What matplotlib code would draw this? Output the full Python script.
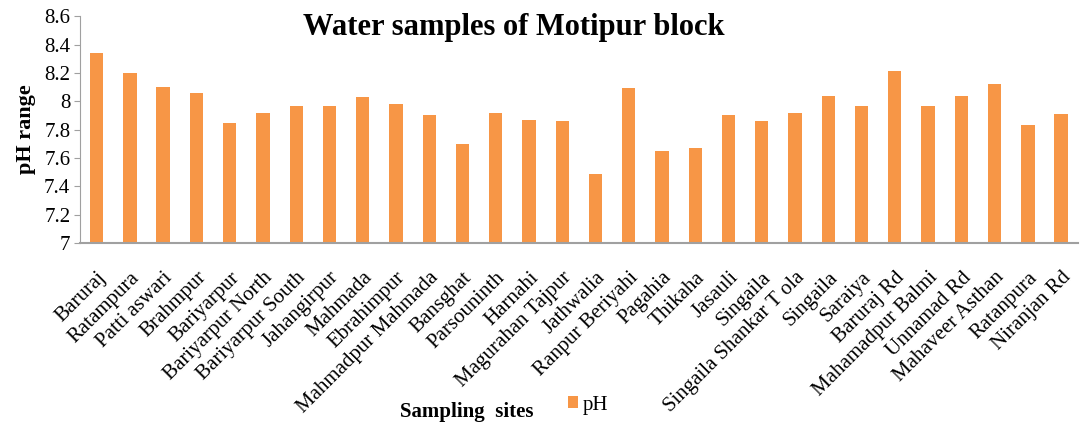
"""
Water samples of Motipur block - pH bar chart
"""

import matplotlib.pyplot as plt
import numpy as np

plt.rcParams['font.family'] = ['Liberation Serif', 'DejaVu Serif']

# Sampling sites and pH values
sites = ['Baruraj', 'Ratampura', 'Patti aswari', 'Brahmpur', 'Bariyarpur',
         'Bariyarpur North', 'Bariyarpur South', 'Jahangirpur', 'Mahmada',
         'Ebrahimpur', 'Mahmadpur Mahmada', 'Bansghat', 'Parsouninth',
         'Harnahi', 'Magurahan Tajpur', 'Jathwalia', 'Ranpur Beriyahi',
         'Pagahia', 'Thikaha', 'Jasauli', 'Singaila', 'Singaila Shankar T ola',
         'Singaila', 'Saraiya', 'Baruraj Rd', 'Mahamadpur Balmi',
         'Unnamad Rd', 'Mahaveer Asthan', 'Ratanpura', 'Niranjan Rd']
ph = [8.34, 8.20, 8.10, 8.06, 7.85,
      7.92, 7.97, 7.97, 8.03,
      7.98, 7.90, 7.70, 7.92,
      7.87, 7.86, 7.49, 8.09,
      7.65, 7.67, 7.90, 7.86, 7.92,
      8.04, 7.97, 8.21, 7.97,
      8.04, 8.12, 7.83, 7.91]
yticks = [7, 7.2, 7.4, 7.6, 7.8, 8, 8.2, 8.4, 8.6]
ytick_labels = ['7', '7.2', '7.4', '7.6', '7.8', '8', '8.2', '8.4', '8.6']

fig = plt.figure(figsize=(10.81, 4.25), dpi=100)
ax = fig.add_axes([0.074, 0.428, 0.923, 0.534])

x = np.arange(len(sites))
ax.bar(x, ph, width=0.4, color='#F79646', label='pH', zorder=2)

ax.set_xlim(-0.5, len(sites) - 0.5)
ax.set_ylim(7, 8.6)
ax.set_yticks(yticks)
ax.set_yticklabels(ytick_labels, fontsize=15)
ax.set_xticks(x)
ax.set_xticklabels(sites, rotation=45, ha='right', rotation_mode='anchor',
                   fontsize=15)
ax.tick_params(axis='x', length=0, pad=18)
ax.tick_params(axis='y', length=4, color='#A0A0A0', pad=3)

for side in ['top', 'right']:
    ax.spines[side].set_visible(False)
ax.spines['left'].set_color('#A0A0A0')
ax.spines['bottom'].set_color('#A0A0A0')
ax.spines['bottom'].set_linewidth(1.5)

ax.set_ylabel('pH range', fontsize=16, fontweight='bold', labelpad=6)
ax.set_xlabel('Sampling  sites', fontsize=15, fontweight='bold')
ax.xaxis.set_label_coords(0.388, -0.70)

fig.text(0.475, 0.935, 'Water samples of Motipur block', ha='center',
         va='center', fontsize=22, fontweight='bold')

ax.legend(loc='center left', bbox_to_anchor=(0.508, 0.047),
          bbox_transform=fig.transFigure, frameon=False, fontsize=15,
          handlelength=0.5, handleheight=0.5, handletextpad=0.2)

plt.savefig('out.png', dpi=100)
